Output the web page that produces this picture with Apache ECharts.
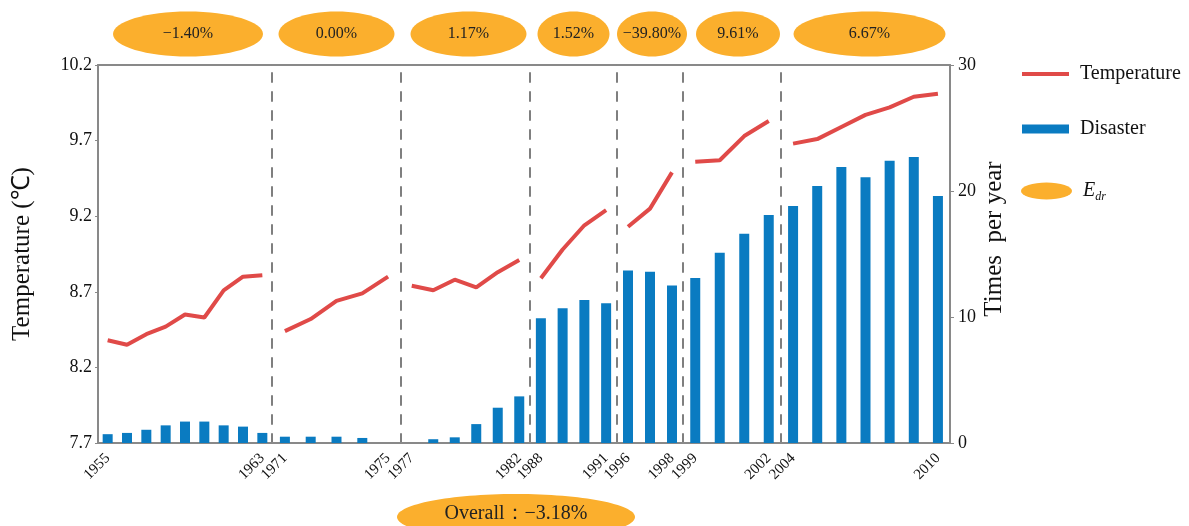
<!DOCTYPE html>
<html>
<head>
<meta charset="utf-8">
<title>Temperature and disaster frequency</title>
<script src="https://cdn.jsdelivr.net/npm/echarts@6/dist/echarts.min.js"></script>
<style>
  html, body { margin: 0; padding: 0; background: #fff; }
  #chart { width: 1189px; height: 526px; }
</style>
</head>
<body>
<div id="chart"></div>
<script>
// data
const years = [
  1955, 1956, 1957, 1958, 1959, 1960, 1961, 1962, 1963,
  1971, 1972, 1973, 1974, 1975,
  1977, 1978, 1979, 1980, 1981, 1982,
  1988, 1989, 1990, 1991,
  1996, 1997, 1998,
  1999, 2000, 2001, 2002,
  2004, 2005, 2006, 2007, 2008, 2009, 2010
];
const segmentSizes = [9, 5, 6, 4, 3, 4, 7];
const temperature = [
  8.38, 8.35, 8.42, 8.47, 8.55, 8.53, 8.71, 8.80, 8.81,
  8.44, 8.52, 8.64, 8.69, 8.80,
  8.74, 8.71, 8.78, 8.73, 8.83, 8.91,
  8.79, 8.98, 9.14, 9.24,
  9.13, 9.25, 9.49,
  9.56, 9.57, 9.73, 9.83,
  9.68, 9.71, 9.79, 9.87, 9.92, 9.99, 10.01
];
const disasters = [
  0.7, 0.8, 1.05, 1.4, 1.7, 1.7, 1.4, 1.3, 0.8,
  0.5, 0.5, 0.5, 0.4, 0,
  0, 0.3, 0.45, 1.5, 2.8, 3.7,
  9.9, 10.7, 11.35, 11.1,
  13.7, 13.6, 12.5,
  13.1, 15.1, 16.6, 18.1,
  18.8, 20.4, 21.9, 21.1, 22.4, 22.7, 19.6
];
const edrRates = ['−1.40%', '0.00%', '1.17%', '1.52%', '−39.80%', '9.61%', '6.67%'];
const overallRate = '−3.18%';
const tempAxis = [7.7, 10.2, 0.5];   // min, max, step
const countAxis = [0, 30, 10];

// layout
const edges = [98, 272, 401, 530, 617, 683, 781, 950];
const plotTop = 65, plotBottom = 443, H = 526;
const ellipseRx = [75, 58, 58, 36, 35, 42, 76];
const ellipseShift = [3, 0, 3, 0, 2, 6, 4];
const FONT = "'Times New Roman', 'Liberation Serif', serif";
const RED = '#e04a48', BLUE = '#0a7bc1', ORANGE = '#fbaf2d', AXIS = '#898989';

const chart = echarts.init(document.getElementById('chart'));

const grids = [], xAxes = [], topAxes = [], leftAxes = [], rightAxes = [], series = [];
let start = 0;
segmentSizes.forEach((n, i) => {
  const cats = years.slice(start, start + n).map(String);
  const last = n - 1;
  grids.push({ left: edges[i], width: edges[i + 1] - edges[i], top: plotTop, bottom: H - plotBottom });
  xAxes.push({
    type: 'category', gridIndex: i, data: cats, position: 'bottom',
    axisLine: { lineStyle: { color: AXIS, width: 2 } },
    axisTick: { show: false },
    axisLabel: {
      interval: (idx) => idx === 0 || idx === last,
      rotate: 45, margin: 13, fontSize: 15, fontFamily: FONT, color: '#111'
    }
  });
  topAxes.push({
    type: 'category', gridIndex: i, data: cats, position: 'top',
    axisLine: { lineStyle: { color: AXIS, width: 2 } },
    axisTick: { show: false }, axisLabel: { show: false }
  });
  // first grid carries the temperature scale, the others draw the dashed separators
  leftAxes.push(i === 0 ? {
    type: 'value', gridIndex: i, position: 'left',
    min: tempAxis[0], max: tempAxis[1], interval: tempAxis[2],
    name: 'Temperature (℃)', nameLocation: 'middle', nameGap: 63, nameRotate: 90,
    nameTextStyle: { fontSize: 25, fontFamily: FONT, color: '#111' },
    axisLine: { show: true, lineStyle: { color: AXIS, width: 2 } },
    axisTick: { show: true, length: 3, lineStyle: { color: AXIS } },
    axisLabel: { fontSize: 18, fontFamily: FONT, color: '#111', margin: 6, formatter: (v) => v.toFixed(1) },
    splitLine: { show: false }
  } : {
    type: 'value', gridIndex: i, position: 'left',
    min: tempAxis[0], max: tempAxis[1], interval: tempAxis[2],
    axisLine: { show: true, lineStyle: { color: '#7f7f7f', width: 2, type: [9, 10] } },
    axisTick: { show: false }, axisLabel: { show: false }, splitLine: { show: false }
  });
  rightAxes.push(i === segmentSizes.length - 1 ? {
    type: 'value', gridIndex: i, position: 'right',
    min: countAxis[0], max: countAxis[1], interval: countAxis[2],
    name: 'Times  per year', nameLocation: 'middle', nameGap: 32, nameRotate: 90,
    nameTextStyle: { fontSize: 25, fontFamily: FONT, color: '#111', padding: [0, 0, 0, 30] },
    axisLine: { show: true, lineStyle: { color: AXIS, width: 2 } },
    axisTick: { show: true, length: 4, lineStyle: { color: AXIS } },
    axisLabel: { fontSize: 18, fontFamily: FONT, color: '#111', margin: 8 },
    splitLine: { show: false }
  } : {
    type: 'value', gridIndex: i, position: 'right', show: false,
    min: countAxis[0], max: countAxis[1], interval: countAxis[2]
  });
  series.push({
    name: 'Disaster', type: 'bar', xAxisIndex: i, yAxisIndex: 7 + i,
    barWidth: 10, itemStyle: { color: BLUE },
    data: disasters.slice(start, start + n)
  });
  series.push({
    name: 'Temperature', type: 'line', xAxisIndex: i, yAxisIndex: i,
    showSymbol: false, z: 3,
    lineStyle: { color: RED, width: 4 }, itemStyle: { color: RED },
    data: temperature.slice(start, start + n)
  });
  start += n;
});

// empty series, only so E_dr appears in the legend
series.push({
  name: 'E_dr', type: 'scatter', xAxisIndex: 0, yAxisIndex: 0, data: [],
  itemStyle: { color: ORANGE, opacity: 1 }
});

const graphic = [];
edrRates.forEach((txt, i) => {
  const cx = (edges[i] + edges[i + 1]) / 2 + ellipseShift[i];
  graphic.push({ type: 'ellipse', shape: { cx: cx, cy: 34, rx: ellipseRx[i], ry: 22.5 }, style: { fill: ORANGE } });
  graphic.push({
    type: 'text', x: cx, y: 34,
    style: { text: txt, font: '16px ' + FONT, fill: '#222', textAlign: 'center', textVerticalAlign: 'middle' }
  });
});
graphic.push({ type: 'ellipse', shape: { cx: 516, cy: 517, rx: 119, ry: 23 }, style: { fill: ORANGE } });
graphic.push({
  type: 'text', x: 516, y: 514,
  style: { text: 'Overall：' + overallRate, font: '20px ' + FONT, fill: '#222', textAlign: 'center', textVerticalAlign: 'middle' }
});

const legendText = { fontSize: 20, fontFamily: FONT, color: '#111', padding: [0, 0, 0, 6] };
const option = {
  animation: false,
  grid: grids,
  xAxis: xAxes.concat(topAxes),
  yAxis: leftAxes.concat(rightAxes),
  legend: [
    {
      left: 1022, top: 64, padding: 0, itemWidth: 47, itemHeight: 4,
      itemStyle: { borderWidth: 0 }, textStyle: legendText,
      data: [{ name: 'Temperature', icon: 'rect' }]
    },
    {
      left: 1022, top: 119, padding: 0, itemWidth: 47, itemHeight: 9,
      itemStyle: { borderWidth: 0 }, textStyle: legendText,
      data: [{ name: 'Disaster', icon: 'rect' }]
    },
    {
      left: 1021, top: 181, padding: 0, itemWidth: 51, itemHeight: 17,
      itemStyle: { borderWidth: 0, opacity: 1 },
      formatter: () => '{e|E}{s|dr}',
      textStyle: {
        color: '#111', padding: [0, 0, 0, 6],
        rich: {
          e: { fontSize: 20, fontFamily: FONT, fontStyle: 'italic', color: '#111' },
          s: { fontSize: 12, fontFamily: FONT, fontStyle: 'italic', color: '#111', padding: [12, 0, 0, 0] }
        }
      },
      data: [{ name: 'E_dr', icon: 'path://M0,8.5 A25.5,8.5 0 1,0 51,8.5 A25.5,8.5 0 1,0 0,8.5 Z' }]
    }
  ],
  graphic: graphic,
  series: series
};
chart.setOption(option);
</script>
</body>
</html>
